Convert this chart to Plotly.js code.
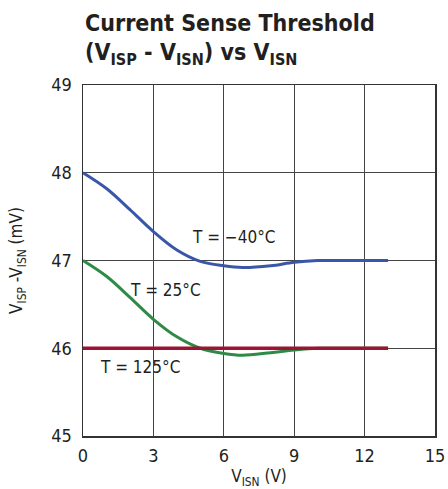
<!DOCTYPE html>
<html>
<head>
<meta charset="utf-8">
<script src="https://cdn.plot.ly/plotly-3.0.1.min.js"></script>
<style>html,body{margin:0;padding:0;background:#fff;}#chart{width:448px;height:489px;}</style>
</head>
<body>
<div id="chart"></div>
<script>
const xCold = [0, 1, 2, 3, 4, 5, 6, 6.8, 8, 9, 10, 11, 12, 13];
const yCold = [48, 47.82, 47.58, 47.33, 47.12, 46.99, 46.94, 46.92, 46.94, 46.98, 47.0, 47.0, 47.0, 47.0];
const xRoom = [0, 1, 2, 3, 4, 5, 6, 6.8, 8, 9, 10, 11, 12, 13];
const yRoom = [47, 46.82, 46.58, 46.33, 46.13, 46.0, 45.94, 45.92, 45.95, 45.98, 46.0, 46.0, 46.0, 46.0];
const xHot = [0, 13];
const yHot = [46, 46];
const labelText = ["T = \u221240\u00b0C", "T = 25\u00b0C", "T = 125\u00b0C"];
const labelX = [6.4, 3.5, 2.45];
const labelY = [47.27, 46.66, 45.79];
const xTicks = [0, 3, 6, 9, 12, 15];
const yTicks = [45, 46, 47, 48, 49];
const titleLines = ["Current Sense Threshold", "(V<sub>ISP</sub> - V<sub>ISN</sub>) vs V<sub>ISN</sub>"];

const FONT = "'DejaVu Sans Condensed', 'Liberation Sans Narrow', Arial, sans-serif";
const INK = '#231f20';

const traces = [
  {x: xCold, y: yCold, mode: 'lines', line: {color: '#3a56a8', width: 3, shape: 'spline', smoothing: 1}},
  {x: xRoom, y: yRoom, mode: 'lines', line: {color: '#2f8a47', width: 3, shape: 'spline', smoothing: 1}},
  {x: xHot, y: yHot, mode: 'lines', line: {color: '#9a1433', width: 3.5}}
];

const annotations = labelText.map((t, i) => ({
  x: labelX[i], y: labelY[i], xref: 'x', yref: 'y', text: t, showarrow: false,
  font: {family: FONT, size: 17, color: INK}
}));
annotations.push({
  x: 0, y: 1.177, xref: 'paper', yref: 'paper', xanchor: 'left', yanchor: 'middle',
  text: '<b>' + titleLines[0] + '</b>', showarrow: false,
  font: {family: FONT, size: 23, color: INK}
});
annotations.push({
  x: 0, y: 1.088, xref: 'paper', yref: 'paper', xanchor: 'left', yanchor: 'middle',
  text: '<b>' + titleLines[1] + '</b>', showarrow: false,
  font: {family: FONT, size: 23, color: INK}
});

const layout = {
  width: 448, height: 489,
  margin: {l: 83, r: 13, t: 85, b: 53},
  paper_bgcolor: '#fff', plot_bgcolor: '#fff',
  showlegend: false,
  font: {family: FONT, color: INK},
  xaxis: {
    range: [0, 15], tickvals: xTicks, ticks: '', ticklabelstandoff: 3,
    showgrid: true, gridcolor: '#444', gridwidth: 1,
    zeroline: false, showline: true, linecolor: '#333', linewidth: 1.5, mirror: true,
    tickfont: {family: FONT, size: 18, color: INK},
    title: {text: 'V<sub>ISN</sub> (V)', font: {family: FONT, size: 17, color: INK}, standoff: 20}
  },
  yaxis: {
    range: [45, 49], tickvals: yTicks, ticks: '', ticklabelstandoff: 6,
    showgrid: true, gridcolor: '#444', gridwidth: 1,
    zeroline: false, showline: true, linecolor: '#333', linewidth: 1.5, mirror: true,
    tickfont: {family: FONT, size: 18, color: INK},
    title: {text: 'V<sub>ISP</sub> -V<sub>ISN</sub> (mV)', font: {family: FONT, size: 17, color: INK}, standoff: 24}
  },
  annotations: annotations
};

Plotly.newPlot('chart', traces, layout, {displayModeBar: false, staticPlot: true});
</script>
</body>
</html>
